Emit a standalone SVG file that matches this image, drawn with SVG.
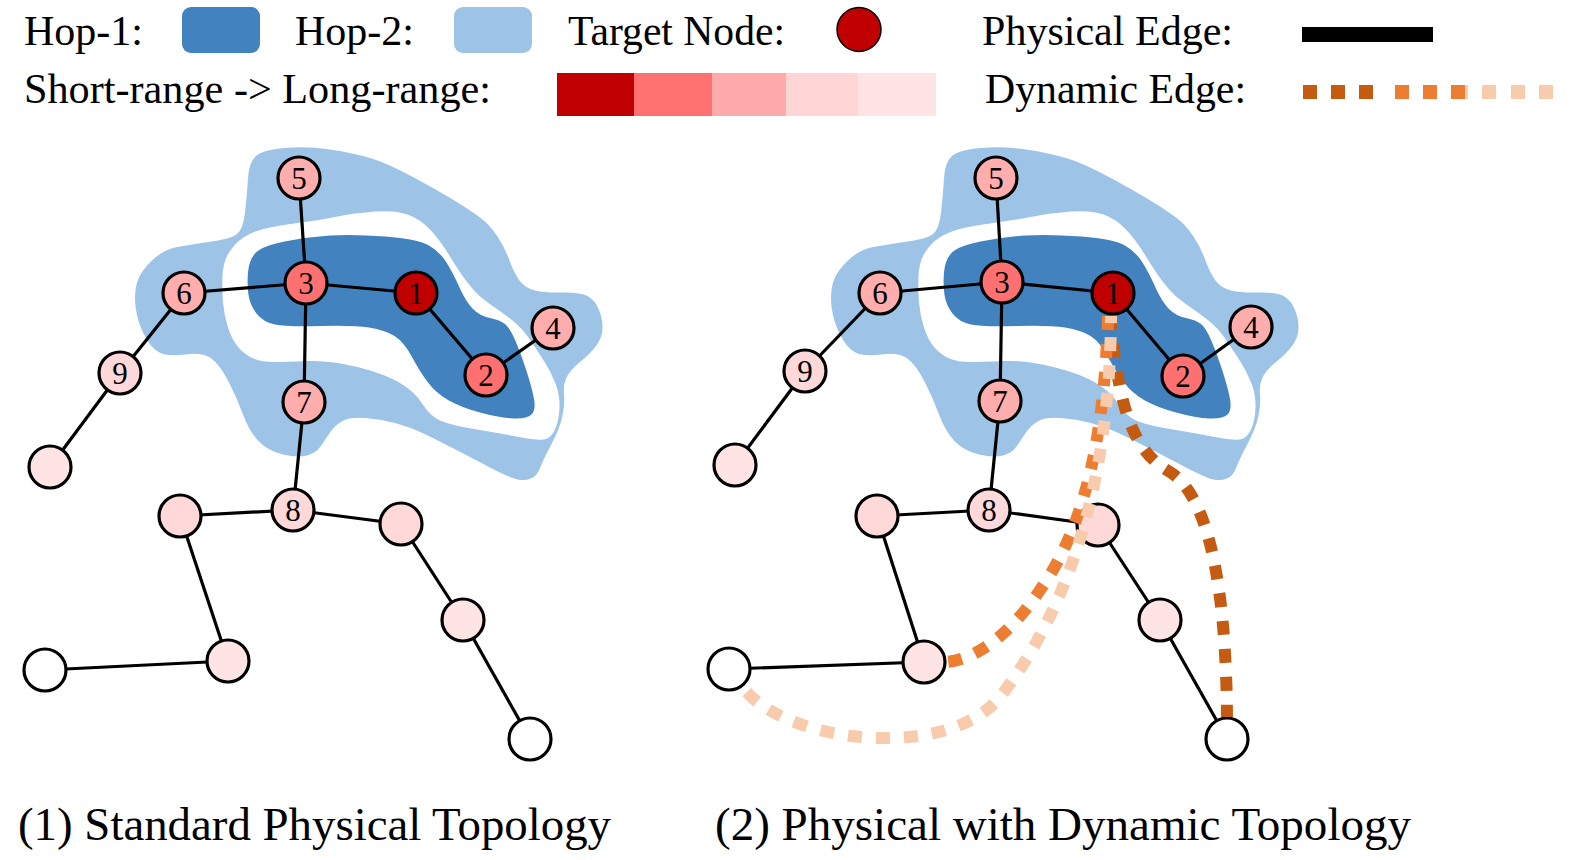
<svg xmlns="http://www.w3.org/2000/svg" xmlns:xlink="http://www.w3.org/1999/xlink" width="1575" height="860" viewBox="0 0 1575 860">
<style>
  text { font-family: "Liberation Serif", "Times New Roman", serif; fill: #000; }
  .leg { font-size: 43px; }
  .cap { font-size: 47px; }
  .lbl { font-size: 31px; text-anchor: middle; }
  .edge { stroke: #000; stroke-width: 3.2; fill: none; }
  .node { stroke: #000; stroke-width: 3.2; }
  .c0 { fill: #C00000; } .c1 { fill: #FF7171; } .c2 { fill: #FFADAD; }
  .c3 { fill: #FFD9DA; } .c4 { fill: #FFE4E6; } .c5 { fill: #FFFFFF; }
  .hop1 { fill: #4282BE; } .hop2 { fill: #9DC3E6; } .gap { fill: #FFFFFF; }
  .dyn { fill: none; stroke-width: 12; stroke-dasharray: 14 14; }
  .d1 { stroke: #C55A11; } .d2 { stroke: #ED7D31; } .d3 { stroke: #F8CBAD; }
</style>
<defs>
  <g id="hops">
    <path class="hop2" d="M137,282.5 Q140,272 151.5,261 Q163,250 175,247.5 Q187,245 208.5,242 Q230,239 236.5,234.5 Q243,230 245,212.5 Q247,195 248,178.5 Q249,162 256,156 Q263,150 285,148 Q307,146 330,149.5 Q353,153 370,158 Q387,163 412,176.5 Q437,190 453.5,200 Q470,210 480,217.5 Q490,225 497.5,236.5 Q505,248 509.5,260.5 Q514,273 519.5,280.5 Q525,288 535,290.5 Q545,293 562.5,292.5 Q580,292 587.5,296 Q595,300 599,310 Q603,320 602.5,329 Q602,338 596,346 Q590,354 580,362 Q570,370 566.5,377.5 Q563,385 564,394 Q565,403 562.5,415.5 Q560,428 551.5,444 Q543,460 540,468 Q537,476 531,478.5 Q525,481 517.5,479.5 Q510,478 490,467.5 Q470,457 453.5,448.5 Q437,440 423.5,433.5 Q410,427 395,423 Q380,419 365,418 Q350,417 342.5,421 Q335,425 330,432.5 Q325,440 320.5,446.5 Q316,453 307,455.5 Q298,458 283,454.5 Q268,451 258.5,441 Q249,431 243,414.5 Q237,398 228.5,381.5 Q220,365 211.5,358.5 Q203,352 185,354.5 Q167,357 158.5,352 Q150,347 143.5,333.5 Q137,320 135.5,306.5 Q134,293 137,282.5 Z"/>
    <path class="gap" d="M222.5,276 Q223,262 229,252.5 Q235,243 243.5,237.5 Q252,232 263.5,229 Q275,226 297.5,223 Q320,220 337.5,216.5 Q355,213 375,211.5 Q395,210 407.5,214.5 Q420,219 430,229.5 Q440,240 450,256.5 Q460,273 469,284.5 Q478,296 490.5,304.5 Q503,313 512.5,320.5 Q522,328 529.5,339 Q537,350 544,361 Q551,372 555.5,383.5 Q560,395 559.5,407.5 Q559,420 555.5,428.5 Q552,437 546,439 Q540,441 519,437 Q498,433 474,429 Q450,425 440,420.5 Q430,416 422.5,404 Q415,392 400,383 Q385,374 357.5,367 Q330,360 307.5,361 Q285,362 273.5,362 Q262,362 253.5,358.5 Q245,355 238.5,347.5 Q232,340 228,327.5 Q224,315 223,302.5 Q222,290 222.5,276 Z"/>
    <path class="hop1" d="M248,272.5 Q249,260 255.5,253 Q262,246 284.5,241.5 Q307,237 330,235.5 Q353,234 385.5,236.5 Q418,239 429,245.5 Q440,252 446.5,262.5 Q453,273 459.5,287.5 Q466,302 473,309 Q480,316 490,318 Q500,320 505,324 Q510,328 515.5,341 Q521,354 526.5,371 Q532,388 534,399 Q536,410 531.5,414.5 Q527,419 513.5,418.5 Q500,418 480,412.5 Q460,407 448,400 Q436,393 428,382.5 Q420,372 412,357 Q404,342 394.5,336 Q385,330 369,327.5 Q353,325 320,326 Q287,327 275,324.5 Q263,322 256.5,313.5 Q250,305 248.5,295 Q247,285 248,272.5 Z"/>
  </g>
</defs>

<g id="legend">
  <text class="leg" x="24" y="45" textLength="119" lengthAdjust="spacingAndGlyphs">Hop-1:</text>
  <rect x="182" y="7" width="78" height="46" rx="9" class="hop1"/>
  <text class="leg" x="295" y="45" textLength="119" lengthAdjust="spacingAndGlyphs">Hop-2:</text>
  <rect x="454" y="7" width="78" height="46" rx="9" class="hop2"/>
  <text class="leg" x="568" y="45" textLength="217" lengthAdjust="spacingAndGlyphs">Target Node:</text>
  <circle cx="859" cy="29.5" r="22" fill="#C00000" stroke="#000" stroke-width="1.5"/>
  <text class="leg" x="982" y="45" textLength="251" lengthAdjust="spacingAndGlyphs">Physical Edge:</text>
  <rect x="1302" y="27" width="131" height="15" fill="#000"/>
  <text class="leg" x="24" y="103" textLength="467" lengthAdjust="spacingAndGlyphs">Short-range -&gt; Long-range:</text>
  <rect x="557" y="73" width="77" height="43" fill="#C00000"/>
  <rect x="634" y="73" width="78" height="43" fill="#FF7171"/>
  <rect x="712" y="73" width="74" height="43" fill="#FFABAB"/>
  <rect x="786" y="73" width="72" height="43" fill="#FFD5D6"/>
  <rect x="858" y="73" width="78" height="43" fill="#FFE4E5"/>
  <text class="leg" x="985" y="103" textLength="261" lengthAdjust="spacingAndGlyphs">Dynamic Edge:</text>
  <g>
    <rect x="1303" y="85" width="14" height="14" fill="#C55A11"/>
    <rect x="1331" y="85" width="14" height="14" fill="#C55A11"/>
    <rect x="1359" y="85" width="14" height="14" fill="#C55A11"/>
    <rect x="1395" y="85" width="14" height="14" fill="#ED7D31"/>
    <rect x="1423" y="85" width="14" height="14" fill="#ED7D31"/>
    <rect x="1451" y="85" width="14" height="14" fill="#ED7D31"/>
    <rect x="1465" y="85" width="3" height="14" fill="#F8CBAD"/>
    <rect x="1482" y="85" width="14" height="14" fill="#F8CBAD"/>
    <rect x="1511" y="85" width="14" height="14" fill="#F8CBAD"/>
    <rect x="1539" y="85" width="14" height="14" fill="#F8CBAD"/>
  </g>
</g>

<g id="hop-regions">
  <use xlink:href="#hops" href="#hops"/>
  <use xlink:href="#hops" href="#hops" transform="translate(696,0)"/>
</g>

<g id="connectors">
  <!-- left graph -->
  <line class="edge" x1="299" y1="178" x2="306" y2="283"/>
  <line class="edge" x1="184" y1="293" x2="306" y2="283"/>
  <line class="edge" x1="306" y1="283" x2="416" y2="293"/>
  <line class="edge" x1="306" y1="283" x2="304" y2="402"/>
  <line class="edge" x1="416" y1="293" x2="486" y2="375"/>
  <line class="edge" x1="486" y1="375" x2="553" y2="328"/>
  <line class="edge" x1="184" y1="293" x2="120" y2="373"/>
  <line class="edge" x1="120" y1="373" x2="50" y2="467"/>
  <line class="edge" x1="304" y1="402" x2="293" y2="510"/>
  <line class="edge" x1="293" y1="510" x2="180" y2="516"/>
  <line class="edge" x1="293" y1="510" x2="401" y2="524"/>
  <line class="edge" x1="180" y1="516" x2="228" y2="661"/>
  <line class="edge" x1="228" y1="661" x2="45" y2="670"/>
  <line class="edge" x1="401" y1="524" x2="463" y2="620"/>
  <line class="edge" x1="463" y1="620" x2="530" y2="739"/>
  <!-- right graph -->
  <line class="edge" x1="996" y1="178" x2="1002" y2="282"/>
  <line class="edge" x1="880" y1="293" x2="1002" y2="282"/>
  <line class="edge" x1="1002" y1="282" x2="1113" y2="293"/>
  <line class="edge" x1="1002" y1="282" x2="1000" y2="401"/>
  <line class="edge" x1="1113" y1="293" x2="1183" y2="376"/>
  <line class="edge" x1="1183" y1="376" x2="1251" y2="327"/>
  <line class="edge" x1="880" y1="293" x2="805" y2="371"/>
  <line class="edge" x1="805" y1="371" x2="735" y2="465"/>
  <line class="edge" x1="1000" y1="401" x2="989" y2="510"/>
  <line class="edge" x1="989" y1="510" x2="877" y2="516"/>
  <line class="edge" x1="989" y1="510" x2="1098" y2="525"/>
  <line class="edge" x1="877" y1="516" x2="924" y2="662"/>
  <line class="edge" x1="924" y1="662" x2="729" y2="669"/>
  <line class="edge" x1="1098" y1="525" x2="1160" y2="620"/>
  <line class="edge" x1="1160" y1="620" x2="1227" y2="739"/>
</g>

<g id="nodes-left">
  <g id="L1"><circle class="node c0" cx="416" cy="293" r="21"/><text class="lbl" x="416" y="303.5">1</text></g>
  <g id="L2"><circle class="node c1" cx="486" cy="375" r="21"/><text class="lbl" x="486" y="385.5">2</text></g>
  <g id="L3"><circle class="node c1" cx="306" cy="283" r="21"/><text class="lbl" x="306" y="293.5">3</text></g>
  <g id="L4"><circle class="node c2" cx="553" cy="328" r="21"/><text class="lbl" x="553" y="338.5">4</text></g>
  <g id="L5"><circle class="node c2" cx="299" cy="178" r="21"/><text class="lbl" x="299" y="188.5">5</text></g>
  <g id="L6"><circle class="node c2" cx="184" cy="293" r="21"/><text class="lbl" x="184" y="303.5">6</text></g>
  <g id="L7"><circle class="node c2" cx="304" cy="402" r="21"/><text class="lbl" x="304" y="412.5">7</text></g>
  <g id="L8"><circle class="node c3" cx="293" cy="510" r="21"/><text class="lbl" x="293" y="520.5">8</text></g>
  <g id="L9"><circle class="node c3" cx="120" cy="373" r="21"/><text class="lbl" x="120" y="383.5">9</text></g>
  <g id="L10"><circle class="node c4" cx="50" cy="467" r="21"/></g>
  <g id="L11"><circle class="node c3" cx="180" cy="516" r="21"/></g>
  <g id="L12"><circle class="node c3" cx="401" cy="524" r="21"/></g>
  <g id="L13"><circle class="node c4" cx="228" cy="661" r="21"/></g>
  <g id="L14"><circle class="node c5" cx="45" cy="670" r="21"/></g>
  <g id="L15"><circle class="node c4" cx="463" cy="620" r="21"/></g>
  <g id="L16"><circle class="node c5" cx="530" cy="739" r="21"/></g>
</g>

<g id="nodes-right">
  <g id="R1"><circle class="node c0" cx="1113" cy="293" r="21"/><text class="lbl" x="1113" y="303.5">1</text></g>
  <g id="R2"><circle class="node c1" cx="1183" cy="376" r="21"/><text class="lbl" x="1183" y="386.5">2</text></g>
  <g id="R3"><circle class="node c1" cx="1002" cy="282" r="21"/><text class="lbl" x="1002" y="292.5">3</text></g>
  <g id="R4"><circle class="node c2" cx="1251" cy="327" r="21"/><text class="lbl" x="1251" y="337.5">4</text></g>
  <g id="R5"><circle class="node c2" cx="996" cy="178" r="21"/><text class="lbl" x="996" y="188.5">5</text></g>
  <g id="R6"><circle class="node c2" cx="880" cy="293" r="21"/><text class="lbl" x="880" y="303.5">6</text></g>
  <g id="R7"><circle class="node c2" cx="1000" cy="401" r="21"/><text class="lbl" x="1000" y="411.5">7</text></g>
  <g id="R8"><circle class="node c3" cx="989" cy="510" r="21"/><text class="lbl" x="989" y="520.5">8</text></g>
  <g id="R9"><circle class="node c3" cx="805" cy="371" r="21"/><text class="lbl" x="805" y="381.5">9</text></g>
  <g id="R10"><circle class="node c4" cx="735" cy="465" r="21"/></g>
  <g id="R11"><circle class="node c3" cx="877" cy="516" r="21"/></g>
  <g id="R12"><circle class="node c3" cx="1098" cy="525" r="21"/></g>
  <g id="R13"><circle class="node c4" cx="924" cy="662" r="21"/></g>
  <g id="R14"><circle class="node c5" cx="729" cy="669" r="21"/></g>
  <g id="R15"><circle class="node c4" cx="1160" cy="620" r="21"/></g>
  <g id="R16"><circle class="node c5" cx="1227" cy="739" r="21"/></g>
</g>

<g id="dynamic-connectors">
  <path class="dyn d1" d="M1110,316 C1118,400 1130,450 1170,472 C1207,495 1226,580 1227,717"/>
  <path class="dyn d2" d="M1108,316 C1105,420 1090,520 1040,590 C1010,635 975,660 946,662"/>
  <path class="dyn d3" d="M1111,316 C1110,500 1060,620 1000,697 C960,746 860,746 800,724 C770,713 755,702 744,689" stroke-dashoffset="7"/>
</g>

<g id="captions">
  <text class="cap" x="18" y="840" textLength="593" lengthAdjust="spacingAndGlyphs">(1) Standard Physical Topology</text>
  <text class="cap" x="715" y="840" textLength="696" lengthAdjust="spacingAndGlyphs">(2) Physical with Dynamic Topology</text>
</g>
</svg>
